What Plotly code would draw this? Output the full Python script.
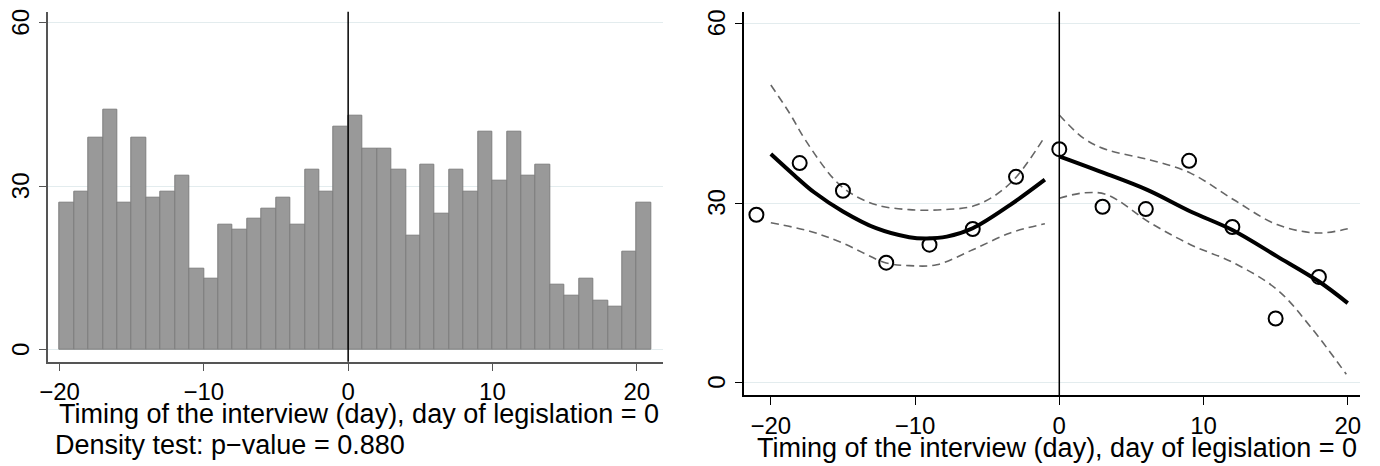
import plotly.graph_objects as go

# ---------------- data ----------------
# Left panel: histogram of interviews per day (bin start day, count)
bin_start = list(range(-20, 21))
counts = [27, 29, 39, 44, 27, 39, 28, 29, 32, 15,
          13, 23, 22, 24, 26, 28, 23, 33, 29, 41,
          43, 37, 37, 33, 21, 34, 25, 33, 29, 40,
          31, 40, 32, 34, 12, 10, 13, 9, 8, 18, 27]

# Right panel: binned means
bin_x = [-21, -18, -15, -12, -9, -6, -3, 0, 3, 6, 9, 12, 15, 18]
bin_y = [28.05, 36.67, 32.05, 20.05, 23.05, 25.67, 34.38,
         39.0, 29.38, 29.0, 37.05, 26.0, 10.72, 17.67]

# fitted curve, left of cutoff
fitL_x = [-20, -18.4, -17, -15, -12.7, -10.4, -9.2, -7.8, -6, -3.4, -1]
fitL_y = [38.2, 34.7, 31.8, 28.6, 25.8, 24.3, 24.1, 24.4, 25.8, 29.7, 33.9]
upL_x = [-20, -18.7, -17.6, -15.7, -14.5, -12.7, -10.4, -8, -5.7, -3.4, -1]
upL_y = [49.7, 45.0, 40.5, 34.2, 31.7, 29.7, 28.9, 28.9, 29.7, 33.3, 41.1]
loL_x = [-20, -17.3, -15, -12, -10.4, -8.5, -6, -3.4, -1]
loL_y = [26.7, 25.3, 23.3, 20.0, 19.55, 19.7, 22.2, 25.0, 26.55]

# fitted curve, right of cutoff
fitR_x = [0, 2.8, 6.1, 9.1, 12, 15.1, 18, 20]
fitR_y = [37.8, 35.3, 32.2, 28.6, 25.5, 21.1, 16.9, 13.3]
upR_x = [0, 1.7, 3.3, 6.3, 9.1, 12.1, 15.1, 17.9, 20]
upR_y = [44.7, 40.8, 38.9, 37.2, 35.0, 30.55, 26.4, 25.0, 25.7]
loR_x = [0, 1.7, 3.3, 6.3, 9.1, 12.1, 15.1, 17.4, 19.9]
loR_y = [30.8, 31.7, 31.4, 26.7, 23.05, 20.0, 15.55, 9.4, 1.4]

x_ticks = [-20, -10, 0, 10, 20]
y_ticks = [0, 30, 60]
x_title = "Timing of the interview (day), day of legislation = 0"
note = "Density test: p\u2212value = 0.880"

# ---------------- figure ----------------
FONT = "Liberation Sans, Arial, Helvetica, sans-serif"
OFF = 8                      # page body margin of the html
W, H = 1380 - OFF, 466 - OFF
GRID = "#e3ecee"

def px(v):
    return (v - OFF) / W

def py(v):
    return 1 - (v - OFF) / H

fig = go.Figure()

fig.add_trace(go.Bar(
    x=bin_start, y=counts, offset=0, width=1,
    marker=dict(color="#999999", line=dict(color="#7e7e7e", width=1)),
    xaxis="x", yaxis="y", showlegend=False))

dash = "8px,5px"
for xs, ys in [(upL_x, upL_y), (loL_x, loL_y), (upR_x, upR_y), (loR_x, loR_y)]:
    fig.add_trace(go.Scatter(x=xs, y=ys, mode="lines", line_shape="spline",
                             line=dict(color="#666666", width=1.6, dash=dash),
                             xaxis="x2", yaxis="y2", showlegend=False))
for xs, ys in [(fitL_x, fitL_y), (fitR_x, fitR_y)]:
    fig.add_trace(go.Scatter(x=xs, y=ys, mode="lines", line_shape="spline",
                             line=dict(color="black", width=4),
                             xaxis="x2", yaxis="y2", showlegend=False))
fig.add_trace(go.Scatter(x=bin_x, y=bin_y, mode="markers",
                         marker=dict(symbol="circle-open", size=14, color="black",
                                     line=dict(width=2, color="black")),
                         xaxis="x2", yaxis="y2", showlegend=False))

# vertical cutoff lines
fig.add_shape(type="line", xref="x", yref="y domain", x0=0, x1=0, y0=0, y1=1,
              line=dict(color="black", width=1.5), layer="above")
fig.add_shape(type="line", xref="x2", yref="y2 domain", x0=0, x1=0, y0=0, y1=1,
              line=dict(color="black", width=1.5), layer="above")

tickfont = dict(family=FONT, size=24, color="black")
titlefont = dict(family=FONT, size=27, color="black")

common_x = dict(tickvals=x_ticks, ticks="outside", ticklen=8, tickwidth=1.2,
                showline=True, linewidth=1.5, showgrid=False, zeroline=False,
                automargin=False, ticklabeloverflow="allow", tickfont=tickfont)
common_y = dict(tickvals=y_ticks, ticks="outside", ticklen=8, tickwidth=1.2,
                showline=True, linewidth=1.5, showgrid=True, gridcolor=GRID,
                gridwidth=1.2, zeroline=False, tickangle=-90, automargin=False,
                ticklabeloverflow="allow", ticklabelshift=3, tickfont=tickfont)

fig.update_layout(
    width=W, height=H, autosize=False,
    margin=dict(l=0, r=0, t=0, b=0, pad=0),
    paper_bgcolor="white", plot_bgcolor="white",
    bargap=0,
    xaxis=dict(domain=[px(48.3), px(663.3)], range=[-20.78, 21.84], anchor="y",
               linecolor="#555555", tickcolor="#555555", **common_x),
    yaxis=dict(domain=[py(361.7), py(11.7)], range=[-2.15, 62.07], anchor="x",
               linecolor="#555555", tickcolor="#555555", **common_y),
    xaxis2=dict(domain=[px(744.3), px(1360)], range=[-21.84, 20.85], anchor="y2",
                linecolor="black", tickcolor="black", **common_x),
    yaxis2=dict(domain=[py(395.3), py(11.7)], range=[-2.1, 61.95], anchor="x2",
                linecolor="black", tickcolor="black", **common_y),
    annotations=[
        dict(text=x_title, xref="paper", yref="paper", x=px(359.4), y=py(413.5),
             xanchor="center", yanchor="middle", showarrow=False, font=titlefont),
        dict(text=x_title, xref="paper", yref="paper", x=px(1056.7), y=py(448),
             xanchor="center", yanchor="middle", showarrow=False, font=titlefont),
        dict(text=note, xref="paper", yref="paper", x=px(53), y=py(444.5),
             xanchor="left", yanchor="middle", showarrow=False, font=titlefont),
    ],
)

fig.write_html("out.html")
